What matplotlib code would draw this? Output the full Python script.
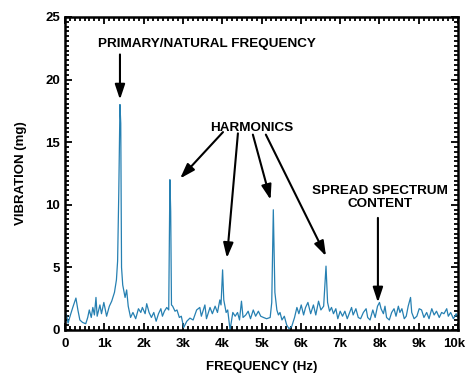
import numpy as np
import matplotlib
matplotlib.use('Agg')
import matplotlib.pyplot as plt
from matplotlib.ticker import AutoMinorLocator
from matplotlib.transforms import ScaledTranslation

#------------------------------------------------ data ------------------------------------------------#
freq_khz = [0.00, 0.04, 0.08, 0.14, 0.20, 0.28, 0.33, 0.38, 0.45, 0.53, 0.58, 0.62, 0.67, 0.71, 0.75, 0.79, 0.82, 0.86,
            0.89, 0.93, 0.99, 1.06, 1.13, 1.19, 1.26, 1.31, 1.34, 1.37, 1.40, 1.42, 1.44, 1.47, 1.53, 1.57, 1.61, 1.67,
            1.73, 1.80, 1.87, 1.93, 1.97, 2.04, 2.08, 2.14, 2.20, 2.26, 2.32, 2.38, 2.44, 2.48, 2.53, 2.59, 2.64, 2.67,
            2.69, 2.71, 2.74, 2.80, 2.85, 2.91, 2.96, 3.02, 3.10, 3.18, 3.26, 3.35, 3.43, 3.47, 3.56, 3.60, 3.69, 3.75,
            3.82, 3.88, 3.94, 3.97, 4.01, 4.04, 4.10, 4.14, 4.20, 4.27, 4.33, 4.39, 4.44, 4.49, 4.53, 4.60, 4.66, 4.72,
            4.79, 4.85, 4.92, 4.98, 5.05, 5.13, 5.22, 5.26, 5.30, 5.34, 5.39, 5.43, 5.47, 5.52, 5.58, 5.64, 5.70, 5.77,
            5.84, 5.90, 5.95, 6.01, 6.07, 6.12, 6.18, 6.25, 6.32, 6.38, 6.45, 6.51, 6.58, 6.64, 6.68, 6.73, 6.78, 6.83,
            6.89, 6.94, 7.00, 7.06, 7.12, 7.18, 7.24, 7.29, 7.33, 7.40, 7.46, 7.52, 7.59, 7.66, 7.70, 7.76, 7.83, 7.89,
            7.95, 8.00, 8.04, 8.10, 8.14, 8.18, 8.25, 8.31, 8.37, 8.42, 8.48, 8.52, 8.57, 8.63, 8.68, 8.73, 8.79, 8.82,
            8.88, 8.95, 9.01, 9.07, 9.13, 9.20, 9.26, 9.33, 9.39, 9.45, 9.52, 9.58, 9.64, 9.71, 9.75, 9.81, 9.88, 9.95,
            10.0]
vibration_mg = [1.3, 1.2, 0.55, 1.2, 1.8, 2.55, 1.6, 0.8, 0.6, 0.5, 1.0, 1.6, 1.0, 1.8, 1.2, 2.6, 1.1, 1.6,
                2.0, 1.3, 2.2, 1.1, 1.9, 2.3, 3.0, 4.0, 5.5, 11.0, 18.0, 16.5, 5.0, 3.6, 2.6, 3.2, 1.9, 1.0,
                1.4, 0.9, 1.7, 1.4, 1.8, 1.3, 2.1, 1.4, 1.0, 1.4, 0.7, 1.3, 1.7, 1.1, 1.5, 1.8, 1.6, 12.0,
                9.5, 2.0, 1.9, 1.5, 1.6, 1.0, 1.1, 0.2, 0.7, 0.95, 0.8, 1.6, 1.8, 1.1, 2.0, 0.9, 1.8, 1.3,
                1.9, 1.4, 2.4, 2.0, 4.8, 2.4, 1.4, 1.6, 0.0, 1.4, 1.1, 1.4, 0.8, 2.3, 1.0, 1.2, 1.5, 0.9,
                1.6, 1.1, 1.5, 1.1, 1.0, 0.9, 1.0, 2.2, 9.6, 3.0, 1.6, 1.2, 1.4, 0.8, 1.1, 0.4, 0.1, 0.3,
                1.0, 1.8, 1.3, 2.0, 1.2, 1.8, 2.2, 1.3, 2.0, 1.2, 2.3, 1.6, 1.9, 5.1, 2.2, 1.5, 1.8, 1.3,
                1.7, 0.9, 1.5, 1.1, 1.5, 0.9, 1.4, 1.8, 1.2, 1.7, 1.0, 0.9, 1.4, 1.7, 1.0, 0.8, 1.6, 1.0,
                1.9, 2.2, 1.7, 1.3, 1.9, 1.0, 0.8, 1.4, 1.7, 1.1, 1.9, 1.4, 1.7, 0.9, 1.1, 1.9, 2.6, 1.4,
                0.9, 1.1, 1.7, 1.6, 1.0, 1.4, 0.9, 1.7, 1.2, 1.5, 1.0, 1.4, 1.3, 1.7, 1.1, 1.4, 0.9, 1.3,
                1.0]

x_ticks = [0, 1000, 2000, 3000, 4000, 5000, 6000, 7000, 8000, 9000, 10000]
x_tick_labels = ['0', '1k', '2k', '3k', '4k', '5k', '6k', '7k', '8k', '9k', '10k']
y_ticks = [0, 5, 10, 15, 20, 25]

# arrow (start, tip) pairs in (Hz, mg)
harmonic_arrows = [((4020, 15.8), (2930, 12.1)),
                   ((4400, 15.7), (4120, 5.75)),
                   ((4780, 15.6), (5230, 10.4)),
                   ((5110, 15.6), (6640, 5.9))]
#-----------------------------------------------------------------------------------------------------------------------------#

plt.rcParams['font.family'] = ['Liberation Sans', 'DejaVu Sans']
plt.rcParams['font.weight'] = 'bold'

fig = plt.figure(figsize=(4.67, 3.75), dpi=100)
ax = fig.add_axes([0.139, 0.12, 0.842, 0.835])

freq_hz = np.array(freq_khz) * 1000
ax.plot(freq_hz, vibration_mg, color='#2680b2', lw=0.9)

ax.set_xlim(0, 10000)
ax.set_ylim(0, 25)
ax.set_xticks(x_ticks)
ax.set_xticklabels(x_tick_labels)
ax.set_yticks(y_ticks)
ax.xaxis.set_minor_locator(AutoMinorLocator(8))
ax.yaxis.set_minor_locator(AutoMinorLocator(13))
ax.tick_params(which='both', direction='in', top=True, right=True, width=1.3, labelsize=9.5)
ax.tick_params(which='major', length=5)
ax.tick_params(which='minor', length=3)
ax.tick_params(axis='x', pad=6)
for s in ax.spines.values():
    s.set_linewidth(1.8)

# last label sits on the figure edge, nudge it in a little
last = ax.get_xticklabels()[-1]
last.set_transform(last.get_transform() + ScaledTranslation(-4 / 100, 0, fig.dpi_scale_trans))

ax.set_xlabel('FREQUENCY (Hz)', fontsize=9.5, fontweight='bold', labelpad=8)
ax.set_ylabel('VIBRATION (mg)', fontsize=9.5, fontweight='bold', labelpad=13)

arrow = dict(arrowstyle='-|>,head_length=0.9,head_width=0.3', color='black', lw=1.5, shrinkA=0, shrinkB=0)
ax.text(3610, 22.8, 'PRIMARY/NATURAL FREQUENCY', ha='center', va='center', fontsize=9.7, fontweight='bold')
ax.annotate('', xy=(1400, 18.4), xytext=(1400, 22.0), arrowprops=arrow)

ax.text(4760, 16.1, 'HARMONICS', ha='center', va='center', fontsize=9.7, fontweight='bold')
for start, tip in harmonic_arrows:
    ax.annotate('', xy=tip, xytext=start, arrowprops=arrow)

ax.text(8020, 10.55, 'SPREAD SPECTRUM\nCONTENT', ha='center', va='center', fontsize=9.7,
        fontweight='bold', linespacing=1.1)
ax.annotate('', xy=(7960, 2.2), xytext=(7960, 8.95), arrowprops=arrow)

fig.savefig('out.png', dpi=100)
